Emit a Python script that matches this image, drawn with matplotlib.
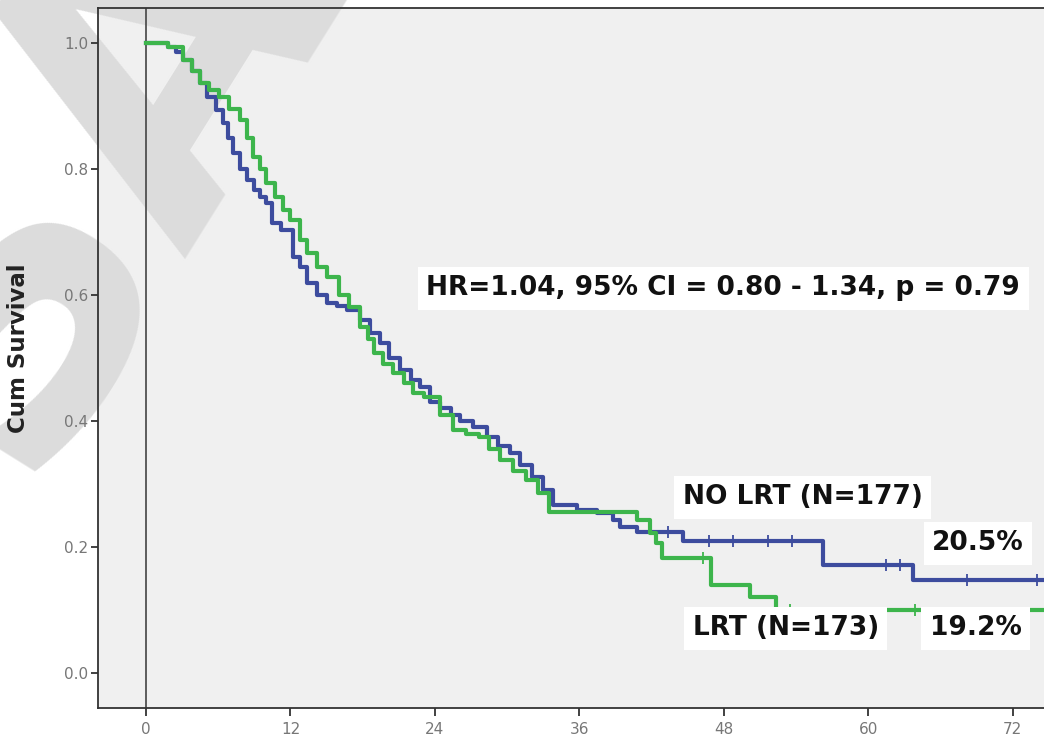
import numpy as np
import matplotlib
matplotlib.use('Agg')
import matplotlib.pyplot as plt

# survival curves (months, cum survival)
blue_t = [0, 1.8, 2.5, 3.1, 3.8, 4.5, 5.1, 5.8, 6.4, 6.8, 7.2, 7.8, 8.4, 9.0, 9.5,
          10.0, 10.5, 11.2, 12.2, 12.8, 13.4, 14.2, 15.0, 15.9, 16.7, 17.8, 18.6,
          19.4, 20.2, 21.1, 22.0, 22.8, 23.6, 24.4, 25.3, 26.1, 27.2, 28.3, 29.2,
          30.2, 31.1, 32.1, 33.0, 33.8, 35.8, 37.5, 38.8, 39.4, 40.8, 44.6, 56.2, 63.7]
blue_s = [1.0, 0.994, 0.985, 0.973, 0.955, 0.937, 0.914, 0.893, 0.873, 0.85, 0.825,
          0.80, 0.783, 0.766, 0.755, 0.746, 0.715, 0.703, 0.66, 0.645, 0.619, 0.60,
          0.587, 0.582, 0.576, 0.56, 0.54, 0.524, 0.50, 0.481, 0.465, 0.454, 0.43,
          0.42, 0.41, 0.40, 0.39, 0.375, 0.36, 0.349, 0.33, 0.311, 0.29, 0.267,
          0.259, 0.254, 0.243, 0.232, 0.224, 0.209, 0.172, 0.148]
blue_cens = [43.4, 46.8, 48.8, 51.7, 53.7, 61.5, 62.6, 68.2, 74.0]

green_t = [0, 1.8, 3.1, 3.8, 4.5, 5.2, 6.1, 6.9, 7.8, 8.4, 8.9, 9.5, 10.0, 10.7,
           11.4, 12.0, 12.8, 13.4, 14.2, 15.0, 16.0, 16.9, 17.8, 18.4, 18.9, 19.7,
           20.5, 21.4, 22.2, 23.1, 24.4, 25.5, 26.6, 27.7, 28.5, 29.4, 30.5, 31.6,
           32.6, 33.5, 40.8, 41.9, 42.4, 42.9, 46.9, 50.2, 52.3]
green_s = [1.0, 0.994, 0.973, 0.955, 0.937, 0.925, 0.914, 0.895, 0.878, 0.85, 0.819,
           0.80, 0.778, 0.755, 0.735, 0.719, 0.687, 0.667, 0.645, 0.629, 0.60, 0.581,
           0.549, 0.53, 0.508, 0.49, 0.476, 0.46, 0.444, 0.438, 0.41, 0.386, 0.38,
           0.375, 0.355, 0.338, 0.32, 0.306, 0.285, 0.255, 0.243, 0.222, 0.206,
           0.183, 0.14, 0.12, 0.10]
green_cens = [46.3, 53.5, 63.9]

x_ticks = [0, 12, 24, 36, 48, 60, 72]
y_ticks = [0.0, 0.2, 0.4, 0.6, 0.8, 1.0]

blue = '#3d4c9e'
green = '#3db54c'
t_end = 74.6


def surv_at(t, s, when):
    idx = np.searchsorted(t, when, side='right') - 1
    return np.array(s)[idx]


fig = plt.figure(figsize=(10.44, 7.42), dpi=100)
ax = fig.add_axes([98 / 1044, 34 / 742, 946 / 1044, 700 / 742])
ax.set_facecolor('#f0f0f0')

# watermark
ax.text(0.017, 0.35, 'SAMPLE', transform=fig.transFigure, fontsize=290,
        fontweight='bold', color='#dcdcdc', rotation=58, rotation_mode='anchor',
        ha='left', va='baseline', family='DejaVu Sans', zorder=1, clip_on=False)

ax.axvline(0, color='#444444', lw=1.2, zorder=1.5)

ax.step(blue_t + [t_end], blue_s + [blue_s[-1]], where='post', color=blue, lw=3, zorder=2)
ax.step(green_t + [t_end], green_s + [green_s[-1]], where='post', color=green, lw=3, zorder=2.1)
ax.plot(blue_cens, surv_at(blue_t, blue_s, blue_cens), ls='none', marker='|',
        ms=8, mew=1.3, color=blue, zorder=2.2)
ax.plot(green_cens, surv_at(green_t, green_s, green_cens), ls='none', marker='|',
        ms=8, mew=1.3, color=green, zorder=2.2)

ax.set_xlim(-3.99, t_end)
ax.set_ylim(-0.0556, 1.0556)
ax.set_xticks(x_ticks)
ax.set_xticklabels([str(v) for v in x_ticks])
ax.set_yticks(y_ticks)
ax.set_yticklabels(['%.1f' % v for v in y_ticks])
ax.tick_params(axis='both', direction='out', colors='#333333', labelcolor='#777777',
               labelsize=11, width=1.3)
ax.tick_params(axis='x', length=6, pad=4)
ax.tick_params(axis='y', length=5, pad=2)
for lab in ax.get_xticklabels() + ax.get_yticklabels():
    lab.set_family(['Liberation Sans Narrow', 'DejaVu Sans'])
for sp in ['top', 'left', 'bottom']:
    ax.spines[sp].set_color('#333333')
    ax.spines[sp].set_linewidth(1.3)
ax.spines['right'].set_visible(False)

ax.set_ylabel('Cum Survival', fontsize=16.5, fontweight='bold', color='#222222')
ax.yaxis.set_label_coords(-0.072, 0.514)

box = dict(facecolor='white', edgecolor='none', pad=6)
txt = dict(fontsize=19, fontweight='bold', color='#111111', va='center',
           family='DejaVu Sans', zorder=3)
ax.text(23.3, 0.611, 'HR=1.04, 95% CI = 0.80 - 1.34, p = 0.79', bbox=box, **txt)
ax.text(44.6, 0.279, 'NO LRT (N=177)', bbox=box, **txt)
ax.text(65.3, 0.206, '20.5%', bbox=box, **txt)
ax.text(45.4, 0.071, 'LRT (N=173)', bbox=box, **txt)
ax.text(65.1, 0.071, '19.2%', bbox=box, **txt)

fig.savefig('out.png', dpi=100)
